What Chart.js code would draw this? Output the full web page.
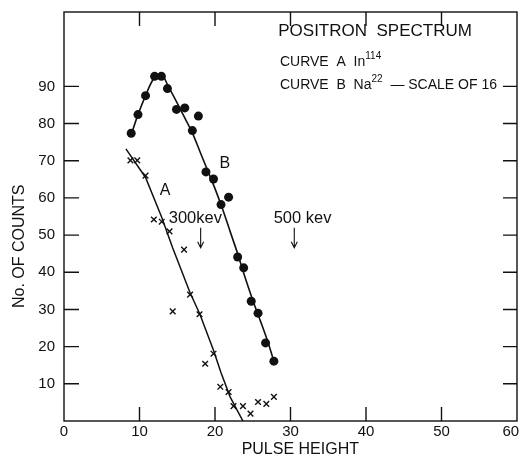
<!DOCTYPE html>
<html>
<head>
<meta charset="utf-8">
<script src="https://cdn.jsdelivr.net/npm/chart.js@4/dist/chart.umd.min.js"></script>
<style>
html, body { margin: 0; padding: 0; background: #fff; }
</style>
</head>
<body>
<canvas id="c" width="523" height="457"></canvas>
<script>
// tick labels
const xTicks = [0, 10, 20, 30, 40, 50, 60]
const yTicks = [10, 20, 30, 40, 50, 60, 70, 80, 90]

// curve A (In 114), crosses
const curveAX = [8.8, 9.7, 10.8, 11.9, 12.95, 13.97, 14.4, 15.9, 16.7, 17.95, 18.7, 19.8, 20.7, 21.8, 22.45, 23.7, 24.7, 25.7, 26.8, 27.8]
const curveAY = [70.1, 70.1, 66.0, 54.2, 53.6, 51.0, 29.5, 46.1, 34.0, 28.7, 15.4, 18.1, 9.2, 7.8, 4.0, 4.0, 2.0, 5.1, 4.6, 6.5]

// curve B (Na 22, scale of 16), dots
const curveBX = [8.9, 9.8, 10.8, 12.0, 12.9, 13.7, 14.9, 16.0, 17.0, 17.8, 18.8, 19.8, 20.8, 21.8, 23.0, 23.8, 24.8, 25.7, 26.7, 27.8]
const curveBY = [77.4, 82.4, 87.5, 92.7, 92.7, 89.4, 83.8, 84.2, 78.1, 82.0, 67.0, 65.1, 58.2, 60.2, 44.1, 41.2, 32.2, 29.0, 21.0, 16.1]

// hand drawn curves through the points
const fitAX = [8.2, 10.8, 12.9, 14.4, 16.7, 18.0, 19.8, 20.8, 22.0, 23.7]
const fitAY = [73.2, 65.5, 55.0, 46.5, 34.5, 28.7, 19.0, 13.0, 6.5, 0]
const fitBX = [8.9, 9.8, 10.8, 11.7, 12.5, 13.2, 13.7, 15.0, 16.0, 17.0, 18.0, 19.0, 20.0, 21.0, 22.0, 23.0, 24.0, 25.0, 26.0, 27.0, 27.8]
const fitBY = [77.0, 82.4, 87.5, 91.5, 93.2, 92.5, 90.5, 85.5, 81.5, 77.5, 72.5, 67.5, 62.5, 57.0, 51.0, 45.0, 38.5, 32.5, 27.0, 21.3, 16.0]

function pts(xs, ys) {
    return xs.map((x, i) => ({x: x, y: ys[i]}))
}

const font = 'Liberation Sans'
const ink = '#111'

const frame = {
    id: 'frame',
    afterDraw(chart) {
        const ctx = chart.ctx
        const a = chart.chartArea
        const xs = chart.scales.x
        const ys = chart.scales.y
        ctx.save()
        ctx.strokeStyle = ink
        ctx.lineWidth = 1.4
        ctx.strokeRect(a.left, a.top, a.right - a.left, a.bottom - a.top)
        ctx.beginPath()
        xTicks.slice(1, -1).forEach(v => {
            let px = xs.getPixelForValue(v)
            ctx.moveTo(px, a.bottom); ctx.lineTo(px, a.bottom - 14)
            ctx.moveTo(px, a.top); ctx.lineTo(px, a.top + 14)
        })
        yTicks.forEach(v => {
            let py = ys.getPixelForValue(v)
            ctx.moveTo(a.left, py); ctx.lineTo(a.left + 15, py)
            ctx.moveTo(a.right, py); ctx.lineTo(a.right - 14, py)
        })
        ctx.stroke()

        // labels on the plot, placed in data units
        ctx.fillStyle = ink
        ctx.textBaseline = 'middle'
        const at = (x, y) => [xs.getPixelForValue(x), ys.getPixelForValue(y)]
        const sup = (parts, x, y) => {
            let [px, py] = at(x, y)
            parts.forEach(p => {
                ctx.font = (p.sup ? 10 : 14) + 'px "' + font + '"'
                ctx.fillText(p.t, px, p.sup ? py - 6 : py)
                px += ctx.measureText(p.t).width
            })
        }
        ctx.textAlign = 'center'
        ctx.font = '17px "' + font + '"'
        ctx.fillText('POSITRON  SPECTRUM', ...at(41.2, 104.8))
        ctx.textAlign = 'left'
        sup([{t: 'CURVE  A  In'}, {t: '114', sup: true}], 28.6, 96.6)
        sup([{t: 'CURVE  B  Na'}, {t: '22', sup: true}, {t: '  — SCALE OF 16'}], 28.6, 90.2)

        ctx.font = '16px "' + font + '"'
        ctx.textAlign = 'center'
        ctx.fillText('A', ...at(13.4, 62.0))
        ctx.fillText('B', ...at(21.3, 69.2))
        ctx.font = '16.5px "' + font + '"'
        ctx.fillText('300kev', ...at(17.4, 54.6))
        ctx.fillText('500 kev', ...at(31.6, 54.6))

        const arrow = (x) => {
            let [px, p1] = at(x, 52.0)
            let p2 = ys.getPixelForValue(46.6)
            ctx.beginPath()
            ctx.lineWidth = 1.1
            ctx.moveTo(px, p1); ctx.lineTo(px, p2)
            ctx.moveTo(px - 3, p2 - 6); ctx.lineTo(px, p2); ctx.lineTo(px + 3, p2 - 6)
            ctx.stroke()
        }
        arrow(18.1)
        arrow(30.5)

        // axis titles
        ctx.font = '16px "' + font + '"'
        ctx.fillText('PULSE HEIGHT', xs.getPixelForValue(31.3), a.bottom + 29)
        ctx.translate(20, ys.getPixelForValue(47))
        ctx.rotate(-Math.PI / 2)
        ctx.fillText('No. OF COUNTS', 0, 0)
        ctx.restore()
    }
}

new Chart(document.getElementById('c'), {
    type: 'scatter',
    data: {
        datasets: [
            {
                data: pts(fitAX, fitAY),
                showLine: true,
                borderColor: ink,
                borderWidth: 1.5,
                pointRadius: 0,
                tension: 0
            },
            {
                data: pts(fitBX, fitBY),
                showLine: true,
                borderColor: ink,
                borderWidth: 1.6,
                pointRadius: 0,
                tension: 0.3
            },
            {
                data: pts(curveAX, curveAY),
                pointStyle: 'crossRot',
                radius: 4,
                borderColor: ink,
                borderWidth: 1.4
            },
            {
                data: pts(curveBX, curveBY),
                pointStyle: 'circle',
                radius: 4.5,
                backgroundColor: ink,
                borderColor: ink,
                borderWidth: 0
            }
        ]
    },
    options: {
        responsive: false,
        animation: false,
        layout: {padding: {top: 12, right: 6, left: 0, bottom: 0}},
        plugins: {
            legend: {display: false},
            tooltip: {enabled: false}
        },
        scales: {
            x: {
                type: 'linear',
                min: 0,
                max: 60,
                afterBuildTicks: s => { s.ticks = xTicks.map(v => ({value: v})) },
                afterFit: s => { s.height = 36; s.paddingLeft = 0; s.paddingRight = 0 },
                grid: {display: false, drawTicks: false},
                border: {display: false},
                ticks: {
                    color: ink,
                    font: {family: font, size: 15},
                    padding: 2,
                    maxRotation: 0,
                    // last label sits a little inside the frame corner
                    callback: v => v === 60 ? '60   ' : String(v)
                }
            },
            y: {
                type: 'linear',
                min: 0,
                max: 110,
                afterBuildTicks: s => { s.ticks = yTicks.map(v => ({value: v})) },
                afterFit: s => { s.width = 64; s.paddingTop = 0; s.paddingBottom = 0 },
                grid: {display: false, drawTicks: false},
                border: {display: false},
                ticks: {color: ink, font: {family: font, size: 15}, padding: 9}
            }
        }
    },
    plugins: [frame]
})
</script>
</body>
</html>
